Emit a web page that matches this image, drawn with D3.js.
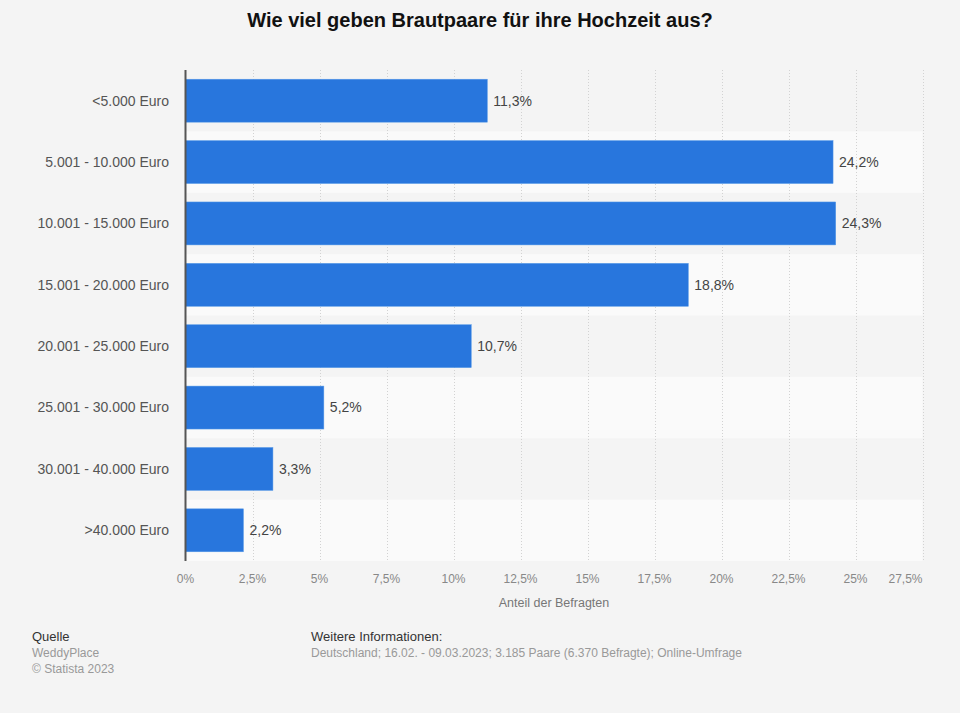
<!DOCTYPE html>
<html>
<head>
<meta charset="utf-8">
<script src="https://cdn.jsdelivr.net/npm/d3@7"></script>
<style>
  html, body { margin: 0; padding: 0; background: #f4f4f4; }
  svg { display: block; font-family: "Liberation Sans", Arial, sans-serif; }
</style>
</head>
<body>
<svg id="chart" width="960" height="713"></svg>
<script>
const categories = ["<5.000 Euro", "5.001 - 10.000 Euro", "10.001 - 15.000 Euro", "15.001 - 20.000 Euro",
  "20.001 - 25.000 Euro", "25.001 - 30.000 Euro", "30.001 - 40.000 Euro", ">40.000 Euro"];
const values = [11.3, 24.2, 24.3, 18.8, 10.7, 5.2, 3.3, 2.2];
const tickValues = [0, 2.5, 5, 7.5, 10, 12.5, 15, 17.5, 20, 22.5, 25, 27.5];
const tickLabels = ["0%", "2,5%", "5%", "7,5%", "10%", "12,5%", "15%", "17,5%", "20%", "22,5%", "25%", "27,5%"];

const svg = d3.select("#chart");
const W = 960, H = 713;
const m = { left: 185.5, right: 922.5, top: 70, bottom: 561 };

svg.append("rect").attr("width", W).attr("height", H).attr("fill", "#f4f4f4");

const x = d3.scaleLinear().domain([0, 27.5]).range([m.left, m.right]);
const y = d3.scaleBand().domain(categories).range([m.top, m.bottom]).paddingInner(0.3).paddingOuter(0.15);
const yRow = d3.scaleBand().domain(categories).range([m.top, m.bottom]).padding(0);

// alternating stripes
svg.append("g").selectAll("rect").data(categories.filter((d, i) => i % 2 === 1)).join("rect")
  .attr("x", m.left).attr("width", m.right - m.left)
  .attr("y", d => yRow(d)).attr("height", yRow.bandwidth())
  .attr("fill", "#fafafa");

// grid lines
svg.append("g").selectAll("line").data(tickValues.slice(1)).join("line")
  .attr("x1", d => Math.round(x(d)) + 0.5).attr("x2", d => Math.round(x(d)) + 0.5)
  .attr("y1", m.top).attr("y2", m.bottom)
  .attr("stroke", "#d2d2d2").attr("stroke-width", 1).attr("stroke-dasharray", "1,2");

// bars
svg.append("g").selectAll("rect").data(values).join("rect")
  .attr("x", x(0)).attr("y", (d, i) => y(categories[i]))
  .attr("width", d => x(d) - x(0) - 1).attr("height", y.bandwidth())
  .attr("fill", "#2876dd").attr("stroke", "#5a9be8").attr("stroke-width", 0.5);

// value labels
svg.append("g").selectAll("text").data(values).join("text")
  .attr("x", d => x(d) + 5).attr("y", (d, i) => y(categories[i]) + y.bandwidth() / 2)
  .attr("dy", "0.35em").attr("font-size", 14).attr("fill", "#444")
  .text(d => d.toFixed(1).replace(".", ",") + "%");

// y axis line
svg.append("line").attr("x1", m.left).attr("x2", m.left).attr("y1", m.top).attr("y2", m.bottom)
  .attr("stroke", "#555").attr("stroke-width", 2);

// category labels
svg.append("g").selectAll("text").data(categories).join("text")
  .attr("x", 169).attr("y", d => y(d) + y.bandwidth() / 2).attr("dy", "0.35em")
  .attr("text-anchor", "end").attr("font-size", 14).attr("fill", "#555")
  .text(d => d);

// x tick labels
svg.append("g").selectAll("text").data(tickValues).join("text")
  .attr("x", d => x(d))
  .attr("text-anchor", (d, i) => i === tickValues.length - 1 ? "end" : "middle")
  .attr("y", 583).attr("font-size", 12).attr("fill", "#888")
  .text((d, i) => tickLabels[i]);

svg.append("text").attr("x", (m.left + m.right) / 2).attr("y", 607).attr("text-anchor", "middle")
  .attr("font-size", 12.5).attr("fill", "#777").text("Anteil der Befragten");

// title
svg.append("text").attr("x", 480).attr("y", 27).attr("text-anchor", "middle")
  .attr("font-size", 20).attr("font-weight", "bold").attr("fill", "#111")
  .text("Wie viel geben Brautpaare für ihre Hochzeit aus?");

// footer
const f = svg.append("g");
f.append("text").attr("x", 32).attr("y", 641).attr("fill", "#333").attr("font-size", 13).text("Quelle");
f.append("text").attr("x", 32).attr("y", 657).attr("fill", "#999").attr("font-size", 12).text("WeddyPlace");
f.append("text").attr("x", 32).attr("y", 673).attr("fill", "#999").attr("font-size", 12).text("© Statista 2023");
f.append("text").attr("x", 311).attr("y", 641).attr("fill", "#333").attr("font-size", 13).text("Weitere Informationen:");
f.append("text").attr("x", 311).attr("y", 657).attr("fill", "#999").attr("font-size", 12)
  .text("Deutschland; 16.02. - 09.03.2023; 3.185 Paare (6.370 Befragte); Online-Umfrage");
</script>
</body>
</html>
